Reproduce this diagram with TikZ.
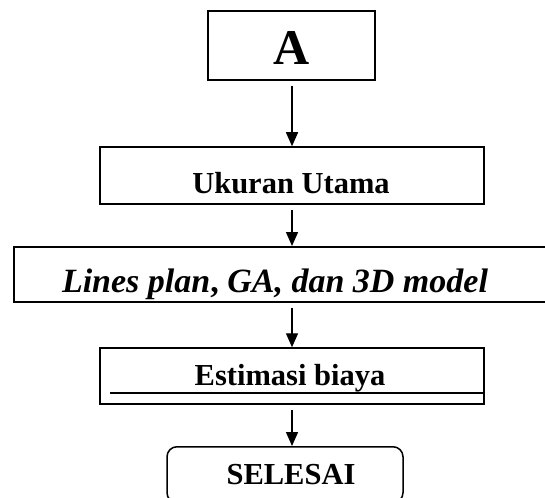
\documentclass[tikz,border=0pt]{standalone}
\usepackage{fontspec}
\setmainfont{Liberation Serif}
\usetikzlibrary{arrows.meta}
\begin{document}
\begin{tikzpicture}[x=1pt,y=-1pt,
  box/.style={draw, line width=1.5pt, inner sep=0pt},
  lbl/.style={font=\fontsize{30.5}{34}\selectfont\bfseries, anchor=base, inner sep=0pt},
  arr/.style={-{Triangle[length=14pt,width=12pt]}, line width=1.4pt, shorten <=5pt}]
\useasboundingbox (0,0) rectangle (545,497);
% boxes
\node[box, minimum width=167pt, minimum height=69pt] (a) at (291.5,45.5) {};
\node[font=\fontsize{50}{54}\selectfont\bfseries, anchor=base, inner sep=0pt] (ta) at (291.5,65) {A};
\node[box, minimum width=384pt, minimum height=57pt] (uk) at (292,175.5) {};
\node[lbl] (tuk) at (291,193) {Ukuran Utama};
\node[box, minimum width=540pt, minimum height=55pt, anchor=north west] (lp) at (13,246) {};
\node[lbl, font=\fontsize{34}{38}\selectfont\bfseries] (tlp) at (275,292) {\textit{Lines plan}, \textit{GA, dan 3D model}};
\node[box, minimum width=384pt, minimum height=56pt] (es) at (292,376) {};
\coordinate (ul1) at (110,393);
\coordinate (ul2) at (484,393);
\draw[line width=1.5pt] (ul1) -- (ul2);
\node[lbl] (tes) at (290,385) {Estimasi biaya};
\node[box, rounded corners=10pt, minimum width=236pt, minimum height=56pt, anchor=north] (sl) at (285,446) {};
\node[lbl] (tsl) at (291,484) {SELESAI};
% arrows
\draw[arr] (a.south -| 292,0) -- (uk.north -| 292,0);
\draw[arr] (uk.south -| 292,0) -- (lp.north -| 292,0);
\draw[arr] (lp.south -| 292,0) -- (es.north -| 292,0);
\draw[arr] (es.south -| 292,0) -- (sl.north -| 292,0);
\end{tikzpicture}
\end{document}
